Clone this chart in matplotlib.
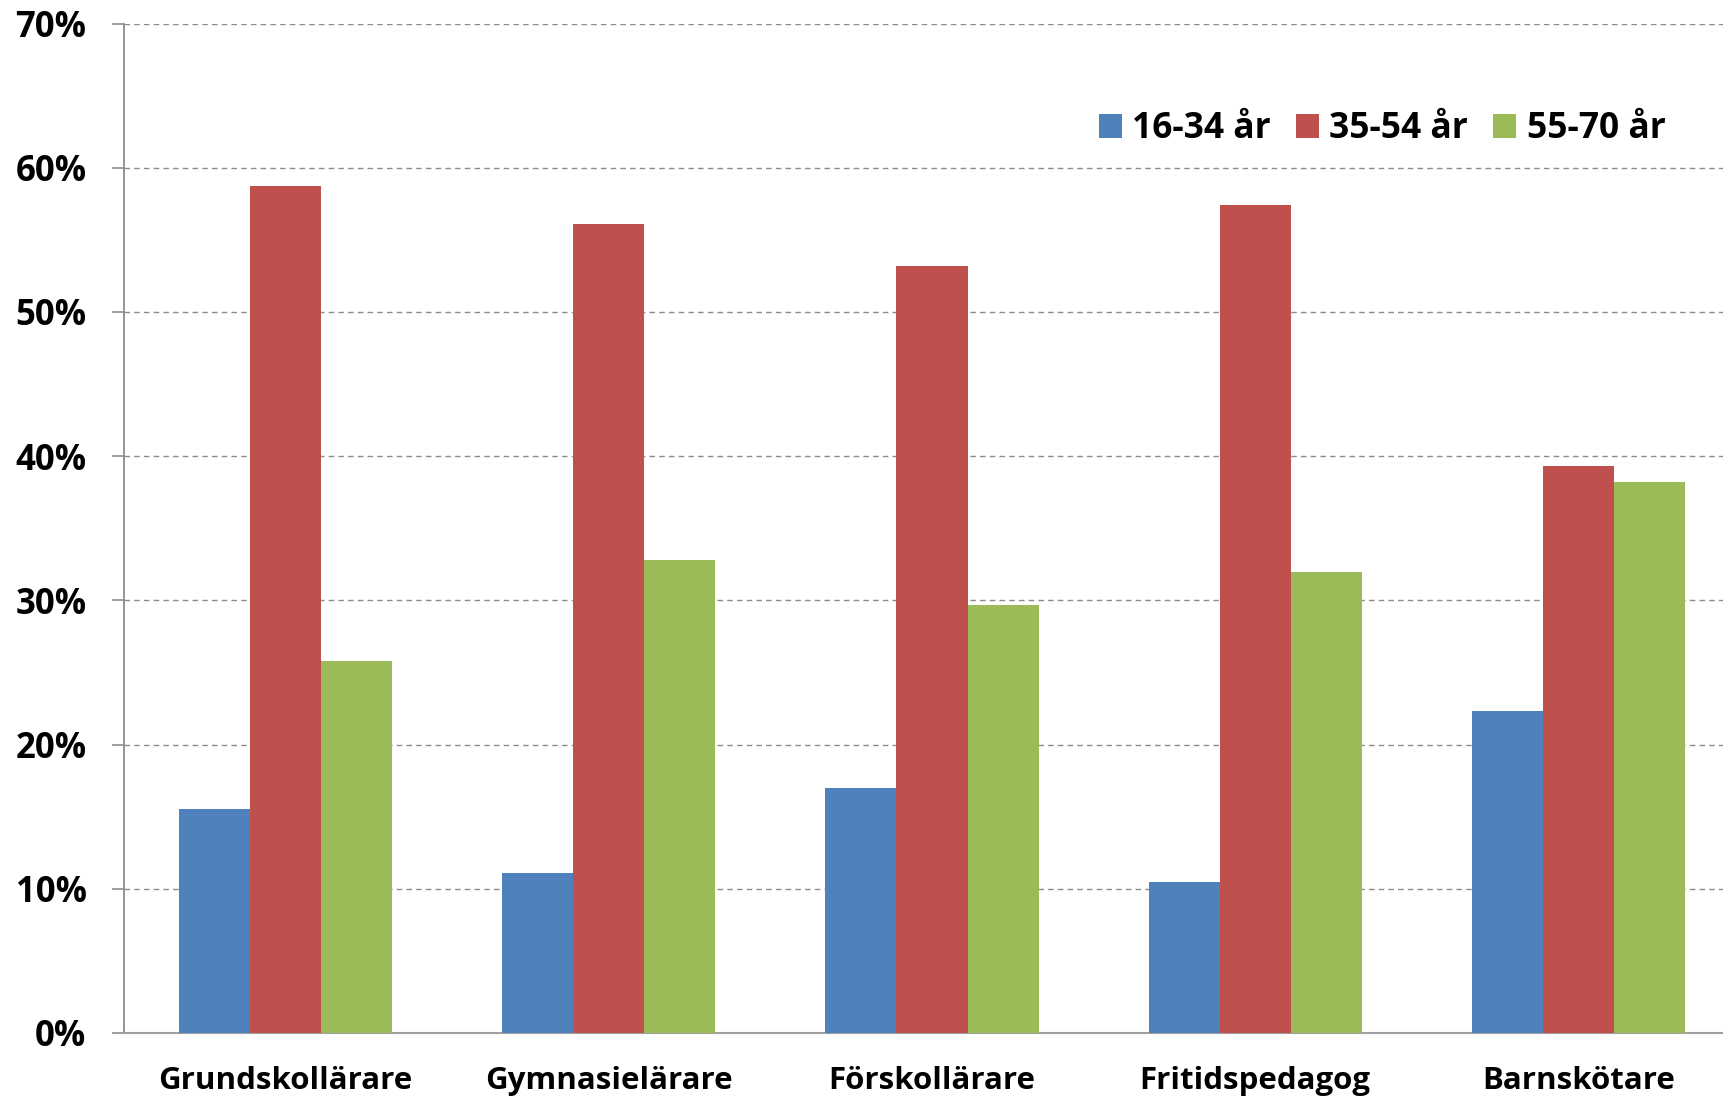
import matplotlib
matplotlib.use("Agg")
import matplotlib.pyplot as plt
import numpy as np
from matplotlib.ticker import FuncFormatter, MultipleLocator

categories = ["Grundskollärare", "Gymnasielärare", "Förskollärare", "Fritidspedagog", "Barnskötare"]
series_names = ["16-34 år", "35-54 år", "55-70 år"]
young = [15.5, 11.1, 17.0, 10.5, 22.3]
middle = [58.7, 56.1, 53.2, 57.4, 39.3]
old = [25.8, 32.8, 29.7, 32.0, 38.2]
colors = ["#4F81BD", "#C0504D", "#9BBB59"]

plt.rcParams['font.family'] = ['Open Sans', 'DejaVu Sans']
plt.rcParams['font.weight'] = 'bold'

fig = plt.figure(figsize=(17.23, 11.01), dpi=100)
ax = fig.add_axes([124/1723, 1 - 1033/1101, 1616/1723, (1033 - 23.5)/1101])

x = np.arange(len(categories))
w = 0.22
for i, (vals, name, c) in enumerate(zip([young, middle, old], series_names, colors)):
    ax.bar(x + (i - 1) * w, vals, width=w, color=c, label=name, zorder=3)

ax.set_xlim(-0.5, 4.5)
ax.set_ylim(0, 70)
ax.yaxis.set_major_locator(MultipleLocator(10))
ax.yaxis.set_major_formatter(FuncFormatter(lambda v, p: f"{int(round(v))}%"))
ax.set_xticks(x)
ax.set_xticklabels(categories)
ax.grid(axis='y', linestyle=(0, (4, 3)), color='#8c8c8c', linewidth=1.0, zorder=0)
for s in ['top', 'right']:
    ax.spines[s].set_visible(False)
ax.spines['left'].set_color('#8c8c8c')
ax.spines['bottom'].set_color('#a0a0a0')
ax.spines['left'].set_linewidth(1.3)
ax.spines['bottom'].set_linewidth(1.5)
ax.tick_params(axis='y', length=9, color='#8c8c8c', width=1.2, pad=18, labelsize=25)
ax.tick_params(axis='x', length=0, pad=24, labelsize=22.5)
for lab in ax.get_xticklabels() + ax.get_yticklabels():
    lab.set_fontweight('bold')

leg = ax.legend(loc='center', bbox_to_anchor=((1382-124)/1616, 1 - (129.5-23.5)/(1033-23.5)),
                ncol=3, frameon=False, handlelength=0.65, handleheight=0.65,
                handletextpad=0.3, columnspacing=0.7, prop={'weight': 'bold', 'size': 25.5})

fig.savefig("out.png", dpi=100)
